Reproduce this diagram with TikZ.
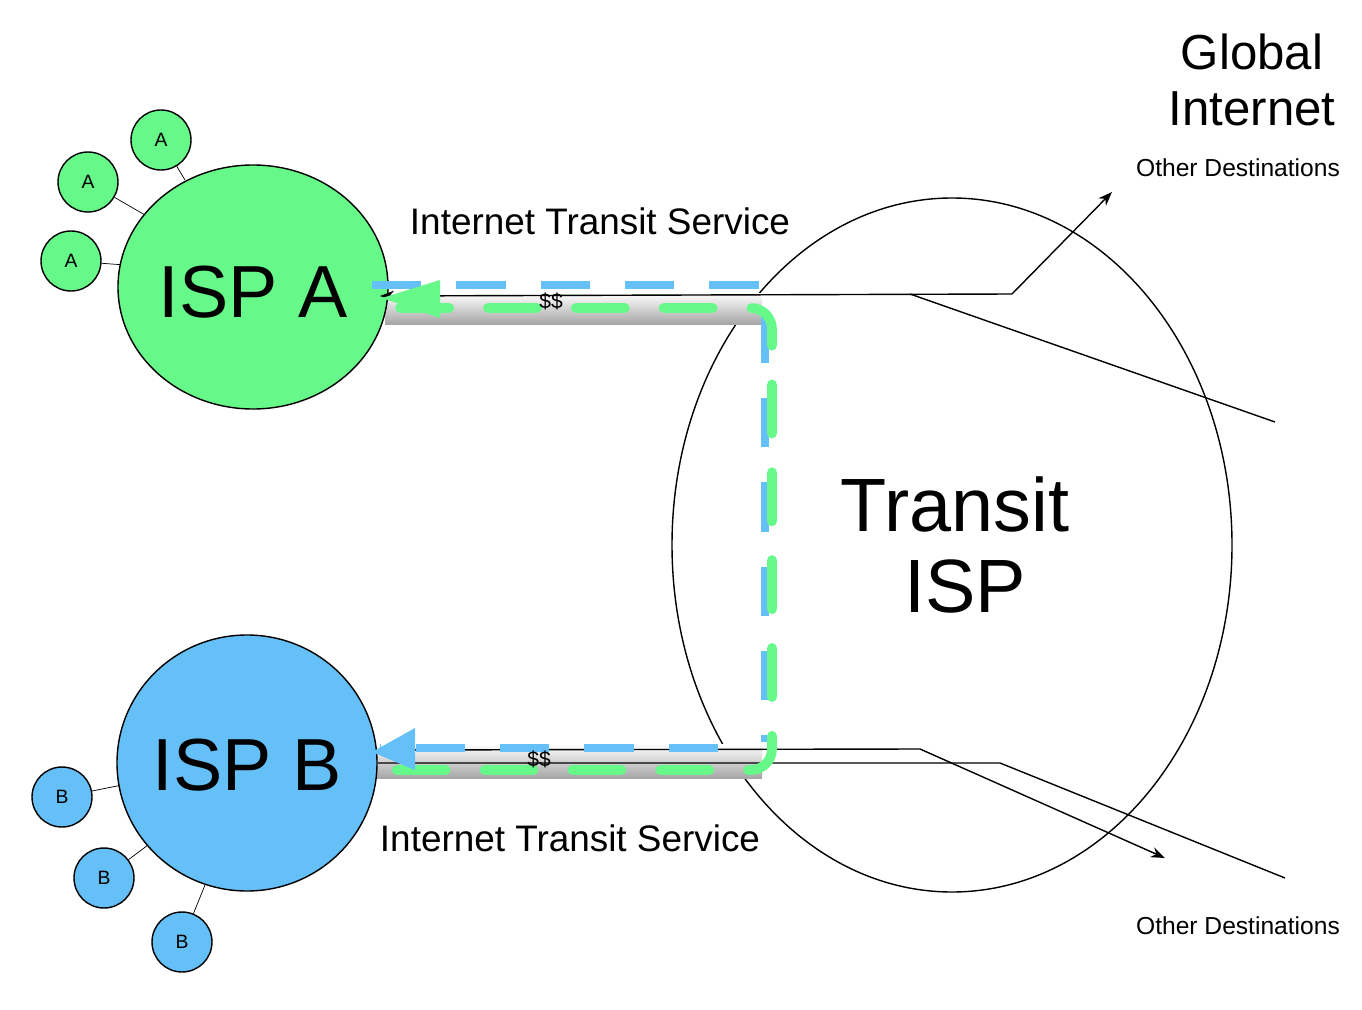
\documentclass[tikz,border=0pt]{standalone}
\usepackage{fontspec}
\setmainfont{Liberation Sans}
\usetikzlibrary{arrows.meta}
\definecolor{gA}{HTML}{66F888}
\definecolor{bB}{HTML}{66C0F8}
\begin{document}
\begin{tikzpicture}[x=0.02cm,y=-0.02cm,
  small/.style={circle,draw,line width=0.8pt,minimum size=1.2cm,inner sep=0,font=\fontsize{11}{11}\selectfont},
  lbl/.style={font=\fontsize{21}{24}\selectfont},
  dest/.style={font=\fontsize{14}{16}\selectfont},
  pipe/.style={top color=white,bottom color=gray!70,draw=none},
  bdash/.style={bB,line width=5pt,dash pattern=on 28pt off 20pt},
  gdash/.style={gA,line width=5.5pt,line cap=round,dash pattern=on 28pt off 22pt},
  wire/.style={black,line width=0.8pt}]
\useasboundingbox (0,0) rectangle (1362,1010);
% small nodes
\node[small,fill=gA] (a1) at (161,140) {A};
\node[small,fill=gA] (a2) at (88,182) {A};
\node[small,fill=gA] (a3) at (71,261) {A};
\node[small,fill=bB] (b1) at (62,797) {B};
\node[small,fill=bB] (b2) at (104,878) {B};
\node[small,fill=bB] (b3) at (182,942) {B};
\draw (a1) -- (185,180); \draw (a2) -- (145,215); \draw (a3) -- (125,265);
\draw (b1) -- (122,785); \draw (b2) -- (148,845); \draw (b3) -- (205,885);
% transit
\draw[line width=0.8pt] (952,545) ellipse [x radius=280, y radius=347];
\node[font=\fontsize{43}{46}\selectfont,align=center] (t) at (955,545) {Transit\\\hspace*{0.4cm}ISP};
% pipes
\fill[pipe] (385,293) rectangle (762,324);
\fill[pipe] (375,744) rectangle (762,778);
% ISP circles
\draw[fill=gA,line width=0.8pt] (253,287) ellipse [x radius=135, y radius=122];
\node[font=\fontsize{42}{44}\selectfont] (ia) at (253,292) {ISP A};
\draw[fill=bB,line width=0.8pt] (247,763) ellipse [x radius=130, y radius=128];
\node[font=\fontsize{42}{44}\selectfont] (ib) at (247,765) {ISP B};
% wires
\coordinate (u1) at (1012,294); \coordinate (u2) at (1112,192);
\coordinate (u3) at (910,294); \coordinate (u4) at (1275,422);
\draw[wire,-{Stealth[length=8pt]}] (u1) -- (u2);
\draw[wire,-{Stealth[length=8pt]}] (u1) -- (380,296);
\draw[wire] (u3) -- (u4);
\coordinate (l1) at (920,749); \coordinate (l2) at (1165,858);
\coordinate (l3) at (1000,763); \coordinate (l4) at (1285,878);
\draw[wire,-{Stealth[length=8pt]}] (378,750) -- (l1) -- (l2);
\draw[wire] (378,763) -- (l3) -- (l4);
% dashed flows
\draw[bdash] (372,285) -- (765,285) -- (765,742);
\draw[bdash] (718,748) -- (380,748);
\draw[gdash,rounded corners=12pt] (400,308) -- (772,308) -- (772,770) -- (365,770);
\fill[gA] (382,298) -- (440,280) -- (440,318) -- cycle;
\fill[bB] (372,752) -- (415,728) -- (415,770) -- cycle;
% labels
\node[font=\fontsize{12}{12}\selectfont] (d1) at (551,301) {\$\$};
\node[font=\fontsize{12}{12}\selectfont] (d2) at (539,759) {\$\$};
\node[lbl] (ts1) at (600,221) {Internet Transit Service};
\node[lbl] (ts2) at (570,838) {Internet Transit Service};
\node[font=\fontsize{28}{32}\selectfont,align=center] (gi) at (1252,80) {Global\\Internet};
\node[dest] (o1) at (1238,168) {Other Destinations};
\node[dest] (o2) at (1238,926) {Other Destinations};
\end{tikzpicture}
\end{document}
